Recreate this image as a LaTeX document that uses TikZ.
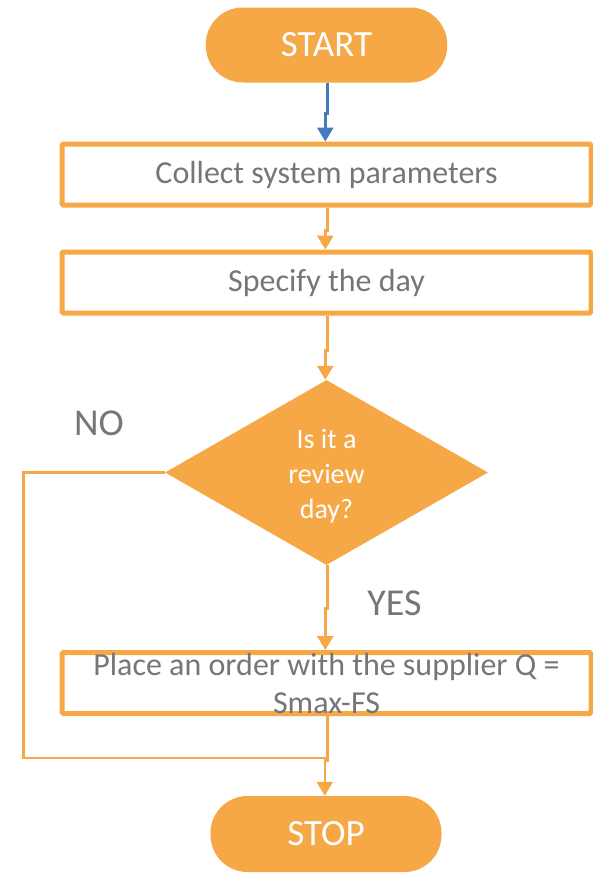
\documentclass[tikz,border=0pt]{standalone}
\usepackage{fontspec}
\setmainfont{Carlito}
\usetikzlibrary{arrows.meta,shapes.geometric}
\definecolor{flowOrange}{RGB}{246,168,70}
\definecolor{txtGray}{RGB}{118,118,118}
\definecolor{linkBlue}{RGB}{70,122,190}

\begin{document}
\begin{tikzpicture}[x=1pt,y=-1pt,
  term/.style={fill=flowOrange,rounded corners=37pt,minimum height=75pt,inner sep=0pt,text=white,font=\fontsize{37}{44}\selectfont},
  proc/.style={draw=flowOrange,line width=5pt,rounded corners=1.5pt,minimum width=529pt,minimum height=61pt,inner sep=0pt,text=txtGray,font=\fontsize{32}{38}\selectfont},
  dec/.style={diamond,fill=flowOrange,minimum width=323pt,minimum height=185pt,inner sep=0pt,align=center,text=white,font=\fontsize{28}{35}\selectfont},
  lbl/.style={text=txtGray,font=\fontsize{38}{45}\selectfont},
  arr/.style={-{Triangle[length=14pt,width=16pt]},line width=2.6pt,draw=flowOrange},
  link/.style={line width=2.6pt,draw=flowOrange}
]
  \useasboundingbox (0,0) rectangle (592,873);

  \node[term,minimum width=241.5pt] (start) at (326.5,45) {START};
  \node[proc] (collect) at (326.5,174.5) {Collect system parameters};
  \node[proc] (specify) at (326.5,282.5) {Specify the day};
  \node[dec] (review) at (326.5,472.5) {};
  \node[text=white,align=center,font=\fontsize{28}{35}\selectfont] (reviewtxt) at (326.5,476) {Is it a\\review\\day?};
  \node[proc,label={[text=txtGray,align=center,font=\fontsize{32}{38}\selectfont]center:{Place an order with the supplier Q =\\Smax-FS}}] (order) at (326.5,683) {};
  \node[term,minimum width=231pt,minimum height=76pt] (stop) at (326,834) {STOP};

  \node[lbl] (no) at (99,423) {NO};
  \node[lbl] (yes) at (394.5,603) {YES};
  \coordinate (noturn) at (23.3,758);

  \draw[arr,draw=linkBlue] ([xshift=1.2pt]start.south) -- ++(0,30.5) -| ([xshift=-1.2pt]collect.north);
  \draw[arr] ([xshift=1.2pt]collect.south) -- ++(0,23) -| ([xshift=-1.2pt]specify.north);
  \draw[arr] ([xshift=1.2pt]specify.south) -- ++(0,35) -| ([xshift=-1.2pt]review.north);
  \draw[arr] ([xshift=1.2pt]review.south) -- ++(0,43) -| ([xshift=-1.2pt]order.north);
  \draw[arr] ([xshift=1.2pt]order.south) -- ++(0,44.5) -| ([xshift=-1.2pt]stop.north);
  \draw[link] (review.west) -| (noturn) -- ([xshift=1.2pt]noturn -| order.south);
\end{tikzpicture}
\end{document}
